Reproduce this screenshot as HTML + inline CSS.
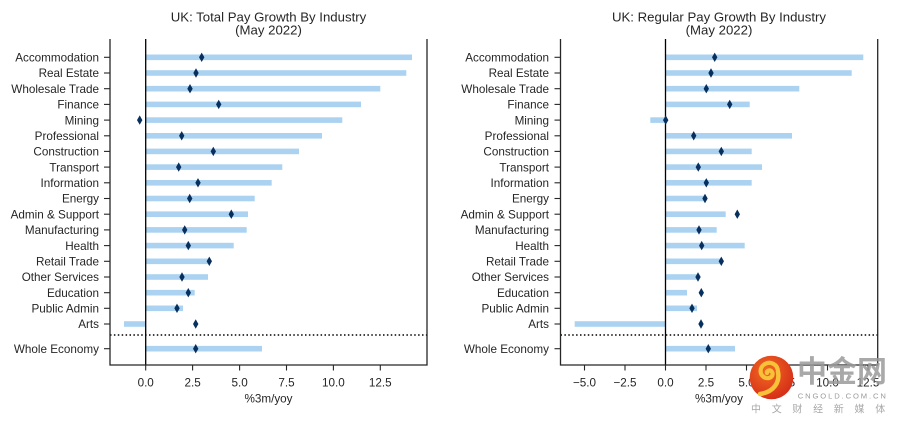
<!DOCTYPE html>
<html><head><meta charset="utf-8"><style>
html,body{margin:0;padding:0;background:#fff;}
svg{display:block;}
text{font-family:"Liberation Sans","Noto Sans CJK SC",Arial,sans-serif;fill:#262626;}
.yl{font-size:11.7px;text-anchor:end;}
.xl{font-size:11.7px;text-anchor:middle;}
.tt{font-size:13.2px;text-anchor:middle;}
.bar{fill:#abd3f1;}
.dm{fill:#08305e;}
.sp{stroke:#262626;stroke-width:1.3;fill:none;}
.tk{stroke:#262626;stroke-width:1.1;}
</style></head><body>
<svg width="903" height="427" viewBox="0 0 903 427" xmlns="http://www.w3.org/2000/svg">
<defs><path id="d" d="M0,-4.7 L2.7,0 L0,4.7 L-2.7,0Z"/></defs>
<rect width="903" height="427" fill="#fff"/>

<!-- LEFT CHART -->
<text class="tt" x="268.5" y="21.3">UK: Total Pay Growth By Industry</text>
<text class="tt" x="268.5" y="34.7">(May 2022)</text>
<g class="bar">
<rect x="145.7" y="54.5" width="266.3" height="5.6"/>
<rect x="145.7" y="70.2" width="260.6" height="5.6"/>
<rect x="145.7" y="85.9" width="234.6" height="5.6"/>
<rect x="145.7" y="101.6" width="215.3" height="5.6"/>
<rect x="145.7" y="117.3" width="196.6" height="5.6"/>
<rect x="145.7" y="133.0" width="176.3" height="5.6"/>
<rect x="145.7" y="148.6" width="153.3" height="5.6"/>
<rect x="145.7" y="164.3" width="136.6" height="5.6"/>
<rect x="145.7" y="180.0" width="126" height="5.6"/>
<rect x="145.7" y="195.7" width="109" height="5.6"/>
<rect x="145.7" y="211.4" width="102.3" height="5.6"/>
<rect x="145.7" y="227.1" width="101" height="5.6"/>
<rect x="145.7" y="242.8" width="88" height="5.6"/>
<rect x="145.7" y="258.5" width="63.6" height="5.6"/>
<rect x="145.7" y="274.2" width="62.3" height="5.6"/>
<rect x="145.7" y="289.9" width="49" height="5.6"/>
<rect x="145.7" y="305.5" width="37.3" height="5.6"/>
<rect x="124" y="321.2" width="21.7" height="5.6"/>
<rect x="145.7" y="345.9" width="116.3" height="5.6"/>
</g>
<line x1="145.7" y1="39" x2="145.7" y2="365" stroke="#000" stroke-width="1.3"/>
<line x1="110" y1="335" x2="427" y2="335" stroke="#000" stroke-width="1.5" stroke-dasharray="1.5,2.4"/>
<g class="dm">
<use href="#d" x="201.7" y="57.3"/>
<use href="#d" x="196" y="73.0"/>
<use href="#d" x="190" y="88.7"/>
<use href="#d" x="218.7" y="104.4"/>
<use href="#d" x="139.7" y="120.1"/>
<use href="#d" x="181.7" y="135.8"/>
<use href="#d" x="213.3" y="151.4"/>
<use href="#d" x="178.7" y="167.1"/>
<use href="#d" x="198" y="182.8"/>
<use href="#d" x="189.7" y="198.5"/>
<use href="#d" x="231.3" y="214.2"/>
<use href="#d" x="184.7" y="229.9"/>
<use href="#d" x="188.3" y="245.6"/>
<use href="#d" x="209.3" y="261.3"/>
<use href="#d" x="182" y="277.0"/>
<use href="#d" x="188.3" y="292.7"/>
<use href="#d" x="177" y="308.3"/>
<use href="#d" x="195.7" y="324.0"/>
<use href="#d" x="195.7" y="348.7"/>
</g>
<path class="sp" d="M110,39 V365 H427 V39"/>
<g class="tk">
<line x1="104" y1="57.3" x2="110" y2="57.3"/>
<line x1="104" y1="73.0" x2="110" y2="73.0"/>
<line x1="104" y1="88.7" x2="110" y2="88.7"/>
<line x1="104" y1="104.4" x2="110" y2="104.4"/>
<line x1="104" y1="120.1" x2="110" y2="120.1"/>
<line x1="104" y1="135.8" x2="110" y2="135.8"/>
<line x1="104" y1="151.4" x2="110" y2="151.4"/>
<line x1="104" y1="167.1" x2="110" y2="167.1"/>
<line x1="104" y1="182.8" x2="110" y2="182.8"/>
<line x1="104" y1="198.5" x2="110" y2="198.5"/>
<line x1="104" y1="214.2" x2="110" y2="214.2"/>
<line x1="104" y1="229.9" x2="110" y2="229.9"/>
<line x1="104" y1="245.6" x2="110" y2="245.6"/>
<line x1="104" y1="261.3" x2="110" y2="261.3"/>
<line x1="104" y1="277.0" x2="110" y2="277.0"/>
<line x1="104" y1="292.7" x2="110" y2="292.7"/>
<line x1="104" y1="308.3" x2="110" y2="308.3"/>
<line x1="104" y1="324.0" x2="110" y2="324.0"/>
<line x1="104" y1="348.7" x2="110" y2="348.7"/>
<line x1="145.7" y1="365" x2="145.7" y2="370.5"/>
<line x1="192.6" y1="365" x2="192.6" y2="370.5"/>
<line x1="239.6" y1="365" x2="239.6" y2="370.5"/>
<line x1="286.5" y1="365" x2="286.5" y2="370.5"/>
<line x1="333.4" y1="365" x2="333.4" y2="370.5"/>
<line x1="380.3" y1="365" x2="380.3" y2="370.5"/>
</g>
<g class="yl">
<text x="99" y="61.5">Accommodation</text>
<text x="99" y="77.2">Real Estate</text>
<text x="99" y="92.9">Wholesale Trade</text>
<text x="99" y="108.6">Finance</text>
<text x="99" y="124.3">Mining</text>
<text x="99" y="140.0">Professional</text>
<text x="99" y="155.6">Construction</text>
<text x="99" y="171.3">Transport</text>
<text x="99" y="187.0">Information</text>
<text x="99" y="202.7">Energy</text>
<text x="99" y="218.4">Admin &amp; Support</text>
<text x="99" y="234.1">Manufacturing</text>
<text x="99" y="249.8">Health</text>
<text x="99" y="265.5">Retail Trade</text>
<text x="99" y="281.2">Other Services</text>
<text x="99" y="296.9">Education</text>
<text x="99" y="312.5">Public Admin</text>
<text x="99" y="328.2">Arts</text>
<text x="99" y="352.9">Whole Economy</text>
</g>
<g class="xl">
<text x="145.7" y="386.5">0.0</text>
<text x="192.6" y="386.5">2.5</text>
<text x="239.6" y="386.5">5.0</text>
<text x="286.5" y="386.5">7.5</text>
<text x="333.4" y="386.5">10.0</text>
<text x="380.3" y="386.5">12.5</text>
<text x="268.5" y="402.7">%3m/yoy</text>
</g>

<!-- RIGHT CHART -->
<text class="tt" x="719" y="21.3">UK: Regular Pay Growth By Industry</text>
<text class="tt" x="719" y="34.7">(May 2022)</text>
<g class="bar">
<rect x="665.5" y="54.5" width="197.8" height="5.6"/>
<rect x="665.5" y="70.2" width="186.2" height="5.6"/>
<rect x="665.5" y="85.9" width="133.8" height="5.6"/>
<rect x="665.5" y="101.6" width="84.2" height="5.6"/>
<rect x="650.3" y="117.3" width="15.2" height="5.6"/>
<rect x="665.5" y="133.0" width="126.5" height="5.6"/>
<rect x="665.5" y="148.6" width="86.2" height="5.6"/>
<rect x="665.5" y="164.3" width="96.5" height="5.6"/>
<rect x="665.5" y="180.0" width="86.2" height="5.6"/>
<rect x="665.5" y="195.7" width="39.5" height="5.6"/>
<rect x="665.5" y="211.4" width="60.2" height="5.6"/>
<rect x="665.5" y="227.1" width="51.2" height="5.6"/>
<rect x="665.5" y="242.8" width="79.2" height="5.6"/>
<rect x="665.5" y="258.5" width="55.8" height="5.6"/>
<rect x="665.5" y="274.2" width="32.5" height="5.6"/>
<rect x="665.5" y="289.9" width="21.5" height="5.6"/>
<rect x="665.5" y="305.5" width="31.5" height="5.6"/>
<rect x="574.7" y="321.2" width="90.8" height="5.6"/>
<rect x="665.5" y="345.9" width="69.5" height="5.6"/>
</g>
<line x1="665.5" y1="39" x2="665.5" y2="365" stroke="#000" stroke-width="1.3"/>
<line x1="560.5" y1="335" x2="877.7" y2="335" stroke="#000" stroke-width="1.5" stroke-dasharray="1.5,2.4"/>
<g class="dm">
<use href="#d" x="714.7" y="57.3"/>
<use href="#d" x="711" y="73.0"/>
<use href="#d" x="706.3" y="88.7"/>
<use href="#d" x="729.7" y="104.4"/>
<use href="#d" x="665.7" y="120.1"/>
<use href="#d" x="693.7" y="135.8"/>
<use href="#d" x="721.3" y="151.4"/>
<use href="#d" x="698.3" y="167.1"/>
<use href="#d" x="706.3" y="182.8"/>
<use href="#d" x="705" y="198.5"/>
<use href="#d" x="737.3" y="214.2"/>
<use href="#d" x="699" y="229.9"/>
<use href="#d" x="701.7" y="245.6"/>
<use href="#d" x="721.3" y="261.3"/>
<use href="#d" x="698" y="277.0"/>
<use href="#d" x="701.3" y="292.7"/>
<use href="#d" x="692" y="308.3"/>
<use href="#d" x="701" y="324.0"/>
<use href="#d" x="708.3" y="348.7"/>
</g>
<path class="sp" d="M560.5,39 V365 H877.7 V39"/>
<g class="tk">
<line x1="554.5" y1="57.3" x2="560.5" y2="57.3"/>
<line x1="554.5" y1="73.0" x2="560.5" y2="73.0"/>
<line x1="554.5" y1="88.7" x2="560.5" y2="88.7"/>
<line x1="554.5" y1="104.4" x2="560.5" y2="104.4"/>
<line x1="554.5" y1="120.1" x2="560.5" y2="120.1"/>
<line x1="554.5" y1="135.8" x2="560.5" y2="135.8"/>
<line x1="554.5" y1="151.4" x2="560.5" y2="151.4"/>
<line x1="554.5" y1="167.1" x2="560.5" y2="167.1"/>
<line x1="554.5" y1="182.8" x2="560.5" y2="182.8"/>
<line x1="554.5" y1="198.5" x2="560.5" y2="198.5"/>
<line x1="554.5" y1="214.2" x2="560.5" y2="214.2"/>
<line x1="554.5" y1="229.9" x2="560.5" y2="229.9"/>
<line x1="554.5" y1="245.6" x2="560.5" y2="245.6"/>
<line x1="554.5" y1="261.3" x2="560.5" y2="261.3"/>
<line x1="554.5" y1="277.0" x2="560.5" y2="277.0"/>
<line x1="554.5" y1="292.7" x2="560.5" y2="292.7"/>
<line x1="554.5" y1="308.3" x2="560.5" y2="308.3"/>
<line x1="554.5" y1="324.0" x2="560.5" y2="324.0"/>
<line x1="554.5" y1="348.7" x2="560.5" y2="348.7"/>
<line x1="584.5" y1="365" x2="584.5" y2="370.5"/>
<line x1="625" y1="365" x2="625" y2="370.5"/>
<line x1="665.5" y1="365" x2="665.5" y2="370.5"/>
<line x1="706" y1="365" x2="706" y2="370.5"/>
<line x1="746.5" y1="365" x2="746.5" y2="370.5"/>
<line x1="787" y1="365" x2="787" y2="370.5"/>
<line x1="827.5" y1="365" x2="827.5" y2="370.5"/>
<line x1="868" y1="365" x2="868" y2="370.5"/>
</g>
<g class="yl">
<text x="549" y="61.5">Accommodation</text>
<text x="549" y="77.2">Real Estate</text>
<text x="549" y="92.9">Wholesale Trade</text>
<text x="549" y="108.6">Finance</text>
<text x="549" y="124.3">Mining</text>
<text x="549" y="140.0">Professional</text>
<text x="549" y="155.6">Construction</text>
<text x="549" y="171.3">Transport</text>
<text x="549" y="187.0">Information</text>
<text x="549" y="202.7">Energy</text>
<text x="549" y="218.4">Admin &amp; Support</text>
<text x="549" y="234.1">Manufacturing</text>
<text x="549" y="249.8">Health</text>
<text x="549" y="265.5">Retail Trade</text>
<text x="549" y="281.2">Other Services</text>
<text x="549" y="296.9">Education</text>
<text x="549" y="312.5">Public Admin</text>
<text x="549" y="328.2">Arts</text>
<text x="549" y="352.9">Whole Economy</text>
</g>
<g class="xl">
<text x="584.5" y="386.5">−5.0</text>
<text x="625" y="386.5">−2.5</text>
<text x="665.5" y="386.5">0.0</text>
<text x="706" y="386.5">2.5</text>
<text x="746.5" y="386.5">5.0</text>
<text x="787" y="386.5">7.5</text>
<text x="827.5" y="386.5">10.0</text>
<text x="868" y="386.5">12.5</text>
<text x="719" y="402.7">%3m/yoy</text>
</g>

<!-- WATERMARK -->
<defs>
<radialGradient id="rg" cx="0.4" cy="0.35" r="0.7">
<stop offset="0" stop-color="#f26a22"/>
<stop offset="1" stop-color="#d42c18"/>
</radialGradient>
</defs>
<circle cx="771.5" cy="377.5" r="21.8" fill="url(#rg)"/>
<path d="M778,372 C778,364 770,361 765,364 C759,367 759,376 766,378 C771,379 774,375 772,372 C770,369 766,371 767,373" fill="none" stroke="#f7c23a" stroke-width="4.2" stroke-linecap="round"/>
<path d="M778,372 C780,382 774,392 760,394" fill="none" stroke="#f7c23a" stroke-width="4.5" stroke-linecap="round"/>
<text x="842" y="382" style="font-size:30px;font-weight:bold;fill:#9a9a9a;fill-opacity:0.85;text-anchor:middle;font-family:'Noto Sans CJK SC','WenQuanYi Zen Hei',sans-serif;">中金网</text>
<text x="797.7" y="398.3" style="font-size:7.6px;fill:#9a9a9a;letter-spacing:1.9px;">CNGOLD.COM.CN</text>
<text x="751" y="412.5" style="font-size:10px;fill:#a8a8a8;letter-spacing:10.7px;font-family:'Noto Sans CJK SC','WenQuanYi Zen Hei',sans-serif;">中文财经新媒体</text>
</svg>
</body></html>
